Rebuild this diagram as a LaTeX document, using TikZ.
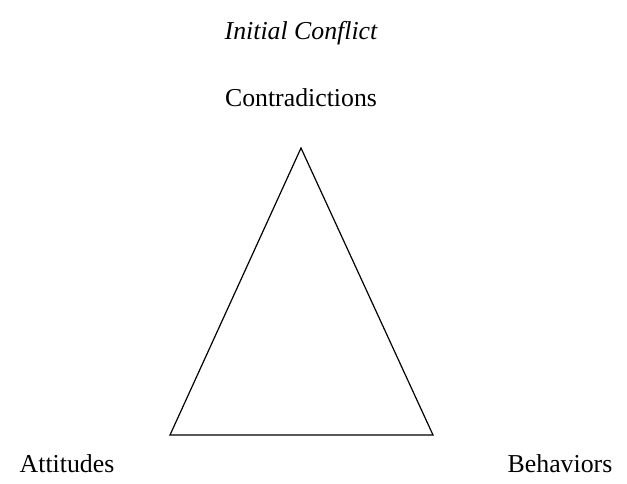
\documentclass[tikz,border=0pt]{standalone}
\usepackage{fontspec}
\setmainfont{Liberation Serif}
\begin{document}
\begin{tikzpicture}[x=1pt,y=-1pt,
  lbl/.style={inner sep=0pt,font=\fontsize{25.8}{30}\selectfont},
  edge/.style={draw=black,line width=1.2pt,line join=miter}]
\useasboundingbox (0,0) rectangle (627,483);
\node[lbl,font=\fontsize{25.8}{30}\selectfont\itshape] (title) at (301,33) {Initial Conflict};
\node[lbl] (contra) at (301,98) {Contradictions};
\node[lbl] (att) at (67,464) {Attitudes};
\node[lbl] (beh) at (560,464) {Behaviors};
\coordinate (top) at (301,148);
\coordinate (bl) at (170,435);
\coordinate (br) at (433,435);
\draw[edge] (top) -- (bl) -- (br) -- cycle;
\end{tikzpicture}
\end{document}
